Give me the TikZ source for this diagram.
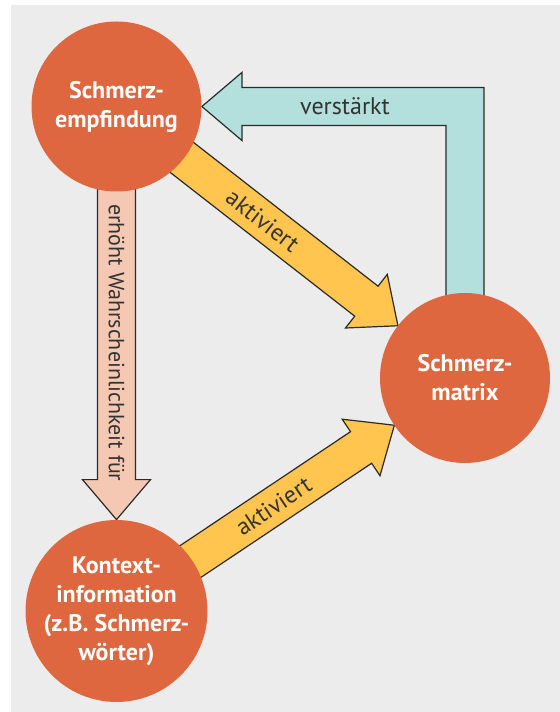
\documentclass[tikz,border=0pt]{standalone}
\usepackage{fontspec}
\setmainfont{PT Sans}
\usepackage{tikz}
\usetikzlibrary{calc}
\usepackage{xcolor}
\definecolor{cbg}{HTML}{EBECEB}
\definecolor{corange}{HTML}{DF673F}
\definecolor{cteal}{HTML}{B3DFDC}
\definecolor{cyellow}{HTML}{FFC54E}
\definecolor{csalmon}{HTML}{F4C8B2}
\definecolor{cline}{HTML}{2A2A2A}
\definecolor{ctext}{HTML}{333333}
\pgfdeclarelayer{back}
\pgfdeclarelayer{arrows}
\pgfsetlayers{back,arrows,main}
% broad arrow from #1 to tip #2, style #3
\newcommand{\fatarrow}[3]{%
  \coordinate (fab) at ($(#2)!20pt!(#1)$);
  \draw[#3] ($(#1)!9.5pt!90:(#2)$) -- ($(fab)!9.5pt!90:(#2)$)
    -- ($(fab)!17pt!90:(#2)$) -- (#2)
    -- ($(fab)!17pt!-90:(#2)$) -- ($(fab)!9.5pt!-90:(#2)$)
    -- ($(#1)!9.5pt!-90:(#2)$) -- cycle;}

\begin{document}
\begin{tikzpicture}[x=0.5pt, y=0.5pt, line join=miter,
  bubble/.style={circle, fill=corange, minimum size=85pt, inner sep=0pt,
    text=white, align=center, font=\bfseries\fontsize{12}{14.5}\selectfont},
  arrowtext/.style={text=ctext, inner sep=0pt, font=\fontsize{12}{14}\selectfont},
  fatline/.style={draw=cline, line width=0.6pt}]
\useasboundingbox (0,0) rectangle (560,712);
% Background
\begin{pgfonlayer}{back}
\fill[cbg] (11,0) rectangle (560,707);
\end{pgfonlayer}
% Circles
\node[bubble] (empf) at (116.5,605.5) {Schmerz-\\empfindung};
\node[bubble] (kontext) at (116.5,101) {Kontext-\\information\\(z.B. Schmerz-\\wörter)};
\node[bubble] (smatrix) at (465,334) {Schmerz-\\matrix};
% Arrows (behind the circles)
\begin{pgfonlayer}{arrows}
\coordinate (tip1) at ($(smatrix)!42.5pt!(empf)$);
\coordinate (tip2) at ($(smatrix)!42.5pt!(kontext)$);
\fatarrow{empf}{tip1}{fatline, fill=cyellow}
\fatarrow{kontext}{tip2}{fatline, fill=cyellow}
\fatarrow{empf}{kontext.north}{fatline, fill=csalmon}
% ---- bent arrow back to the top circle ----
\coordinate (knee) at (smatrix |- empf);
\draw[fatline, fill=cteal] ($(smatrix)+(-19,0)$) -- ($(knee)+(-19,-19)$)
  -- ($(empf.east)+(40,-19)$) -- ($(empf.east)+(40,-34)$) -- (empf.east)
  -- ($(empf.east)+(40,34)$) -- ($(empf.east)+(40,19)$)
  -- ($(knee)+(19,19)$) -- ($(smatrix)+(19,0)$) -- cycle;
\end{pgfonlayer}
% Labels
\path (empf.center) -- (tip1) node[arrowtext, pos=0.52, sloped] (akt1) {aktiviert};
\path (kontext.center) -- (tip2) node[arrowtext, pos=0.565, sloped] (akt2) {aktiviert};
\path (empf.center) -- (kontext.north) node[arrowtext, pos=0.572, sloped,
  font=\fontsize{11}{13}\selectfont] (erh) {erhöht Wahrscheinlichkeit für};
\node[arrowtext] (verst) at (345,606) {verstärkt};
\end{tikzpicture}
\end{document}
